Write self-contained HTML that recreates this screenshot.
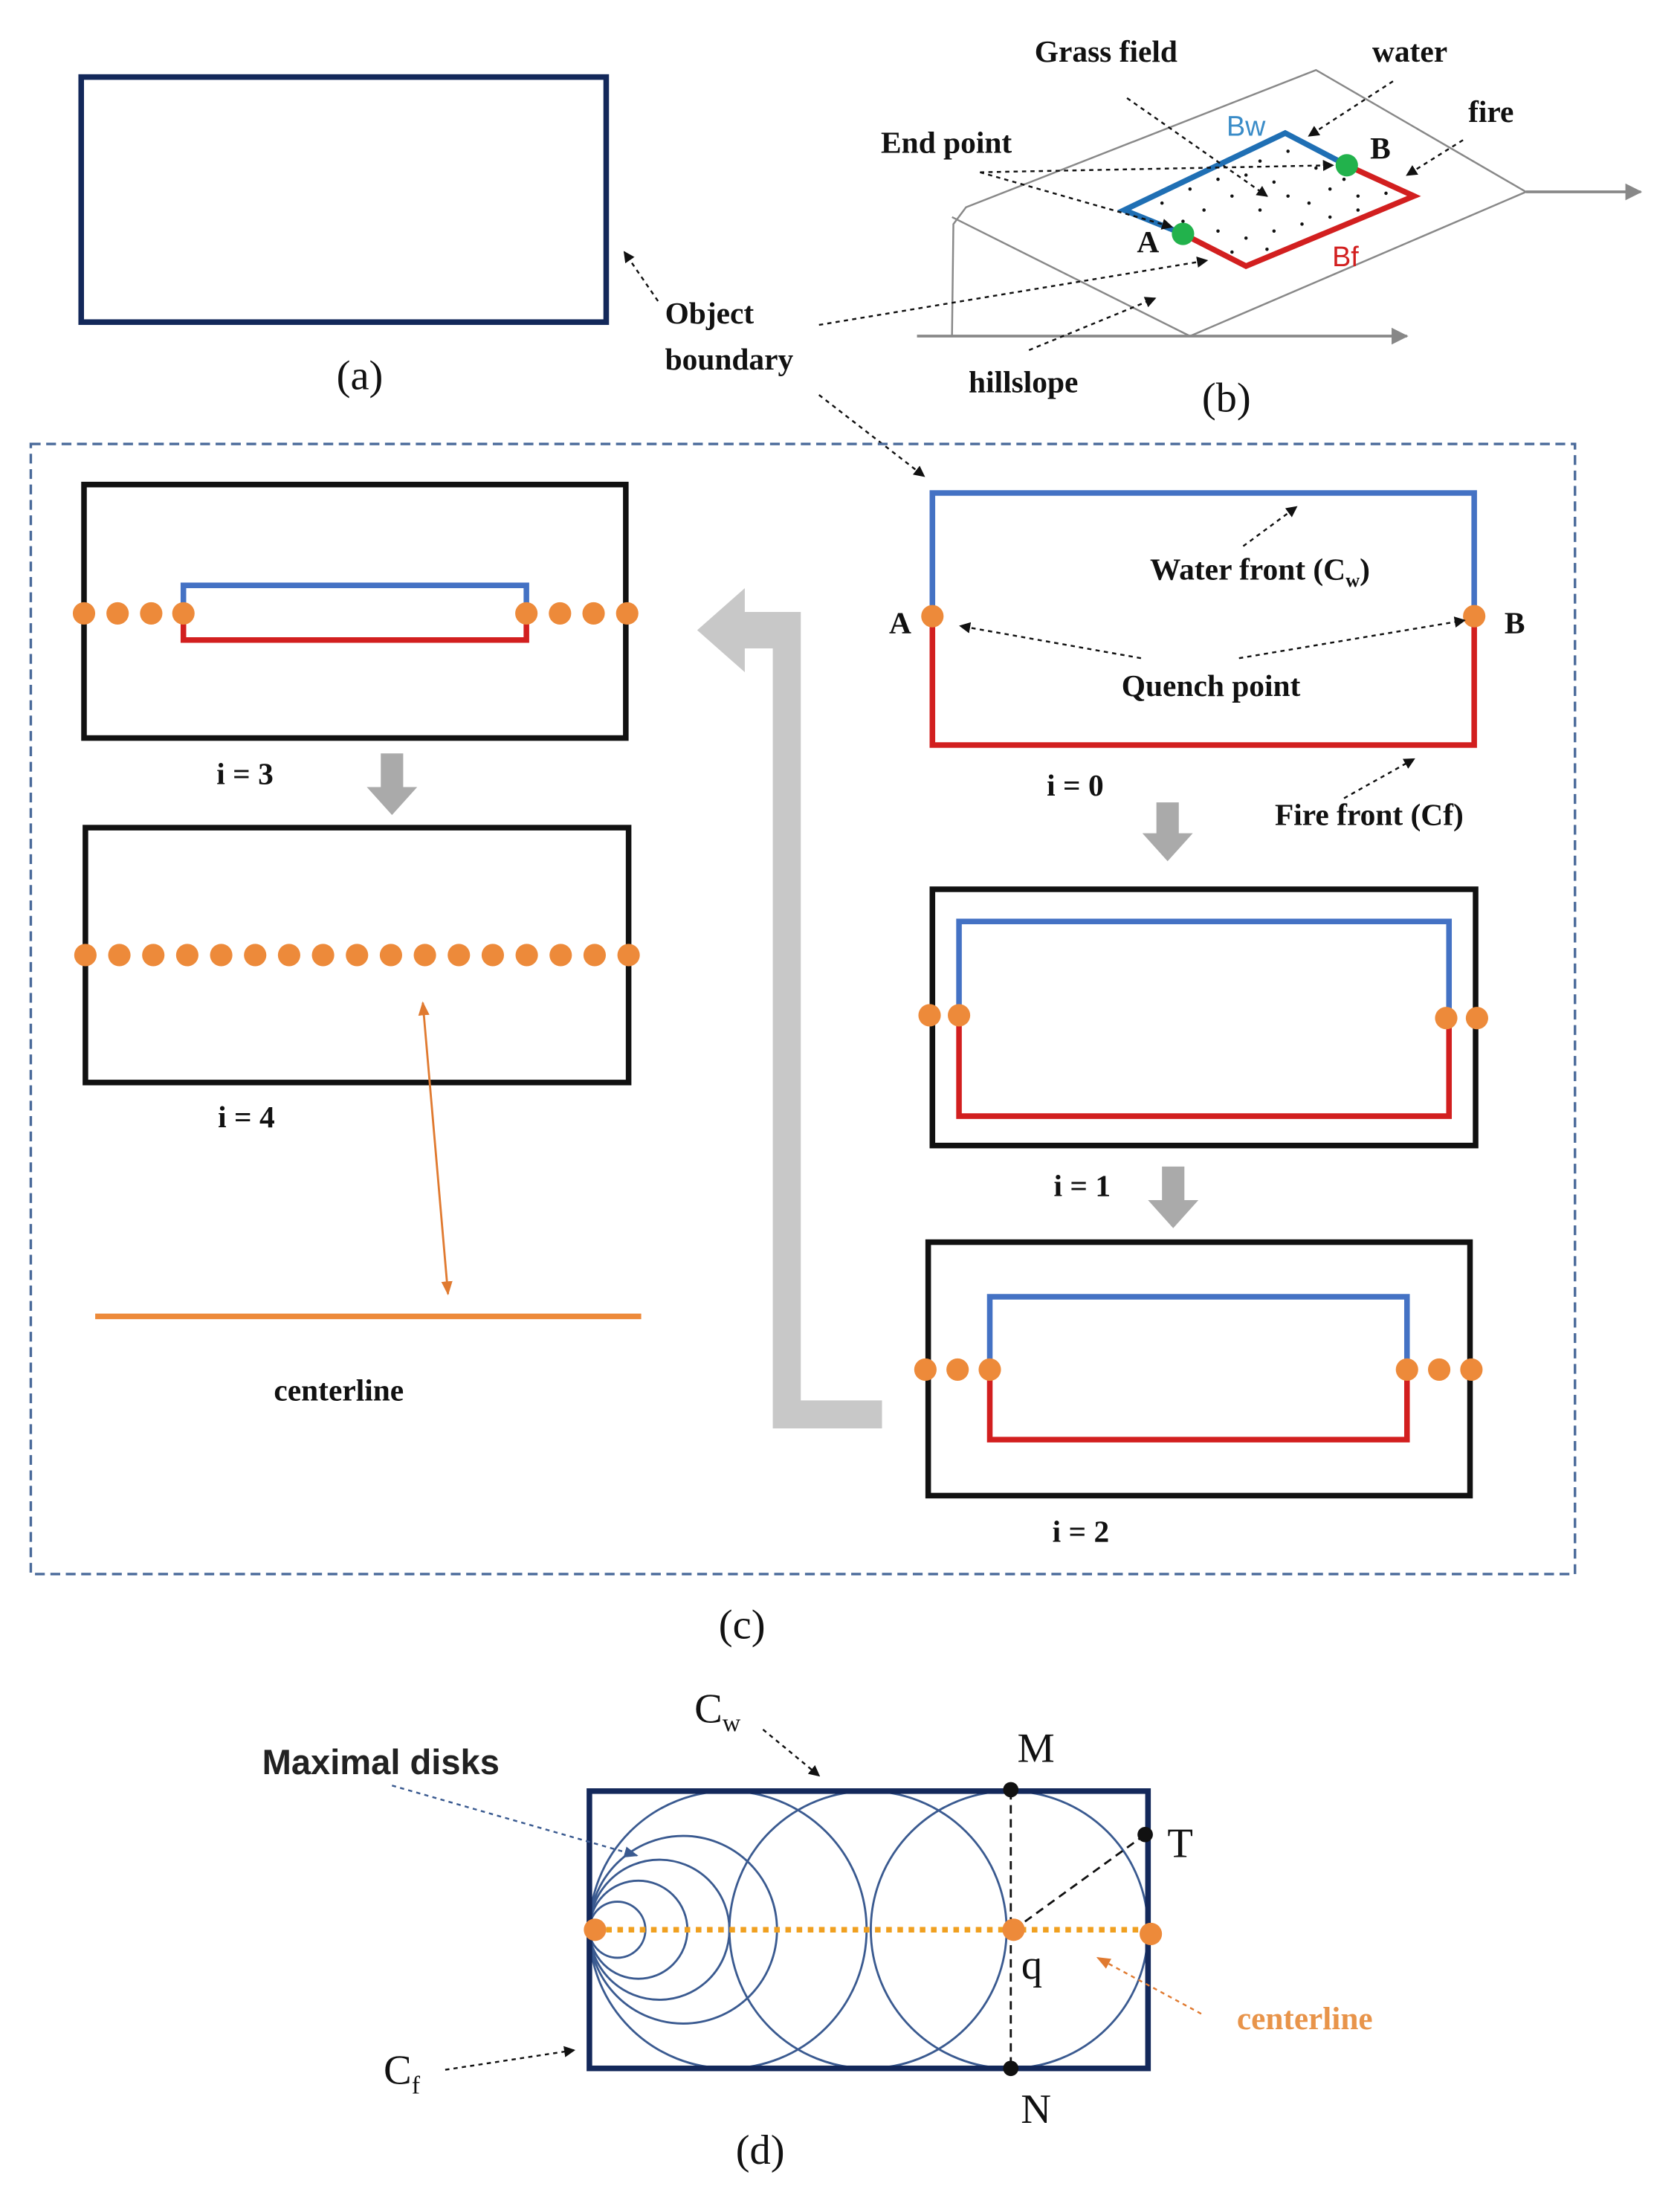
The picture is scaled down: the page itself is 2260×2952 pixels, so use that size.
<!DOCTYPE html>
<html><head><meta charset="utf-8"><style>
html,body{margin:0;padding:0;background:#fff}
svg{display:block}
.l{font-family:"Liberation Serif",serif;font-weight:bold;font-size:22px;fill:#111}
.c{font-family:"Liberation Serif",serif;font-size:30px;fill:#111}
</style></head><body>
<svg width="2260" height="2952" viewBox="0 0 1200 1567.4" xmlns="http://www.w3.org/2000/svg">
<defs>
<marker id="ah" markerWidth="8" markerHeight="8" refX="7" refY="4" orient="auto" markerUnits="userSpaceOnUse"><path d="M0,0 L8,4 L0,8z" fill="#111"/></marker>
<marker id="ag" markerWidth="12" markerHeight="12" refX="11" refY="6" orient="auto" markerUnits="userSpaceOnUse"><path d="M0,0 L12,6 L0,12z" fill="#888"/></marker>
<marker id="ao" markerWidth="10" markerHeight="10" refX="9" refY="5" orient="auto-start-reverse" markerUnits="userSpaceOnUse"><path d="M0,1 L10,5 L0,9z" fill="#e07a30"/></marker>
<marker id="ab" markerWidth="10" markerHeight="10" refX="9" refY="5" orient="auto" markerUnits="userSpaceOnUse"><path d="M0,1 L10,5 L0,9z" fill="#3a5a90"/></marker>
</defs>
<rect width="1200" height="1568" fill="#fff"/>
<!-- (a) -->
<rect x="58" y="55" width="375" height="175" fill="none" stroke="#13285a" stroke-width="4"/>
<text class="c" x="257" y="278" text-anchor="middle">(a)</text>
<!-- (b) -->
<g stroke="#888" stroke-width="1.3" fill="none">
<path d="M680,240 L681,160 L690,148 L940,50 L1090,137 L850,240 L680,155"/>
</g>
<line x1="655" y1="240" x2="1005" y2="240" stroke="#888" stroke-width="2" marker-end="url(#ag)"/>
<line x1="1090" y1="137" x2="1172" y2="137" stroke="#888" stroke-width="2" marker-end="url(#ag)"/>
<polyline points="845,167 803,150 918,95 962,118" fill="none" stroke="#1f6fb4" stroke-width="4"/>
<polyline points="962,118 1010,140 890,190 845,167" fill="none" stroke="#d21f1f" stroke-width="4"/>
<g fill="#111">
<circle cx="830" cy="145" r="1.2"/><circle cx="850" cy="135" r="1.2"/><circle cx="870" cy="128" r="1.2"/><circle cx="900" cy="115" r="1.2"/><circle cx="920" cy="108" r="1.2"/><circle cx="940" cy="120" r="1.2"/><circle cx="860" cy="150" r="1.2"/><circle cx="880" cy="140" r="1.2"/><circle cx="900" cy="150" r="1.2"/><circle cx="920" cy="140" r="1.2"/><circle cx="950" cy="135" r="1.2"/><circle cx="970" cy="140" r="1.2"/><circle cx="990" cy="138" r="1.2"/><circle cx="870" cy="165" r="1.2"/><circle cx="890" cy="170" r="1.2"/><circle cx="910" cy="165" r="1.2"/><circle cx="930" cy="160" r="1.2"/><circle cx="950" cy="155" r="1.2"/><circle cx="970" cy="150" r="1.2"/><circle cx="890" cy="125" r="1.2"/><circle cx="910" cy="130" r="1.2"/><circle cx="935" cy="145" r="1.2"/><circle cx="880" cy="180" r="1.2"/><circle cx="905" cy="178" r="1.2"/><circle cx="960" cy="128" r="1.2"/><circle cx="845" cy="158" r="1.2"/>
</g>
<circle cx="845" cy="167" r="8" fill="#22b24c"/>
<circle cx="962" cy="118" r="8" fill="#22b24c"/>
<g stroke="#111" stroke-width="1.3" stroke-dasharray="3,3" fill="none">
<line x1="805" y1="70" x2="905" y2="140" marker-end="url(#ah)"/>
<line x1="995" y1="58" x2="935" y2="97" marker-end="url(#ah)"/>
<line x1="1045" y1="100" x2="1005" y2="125" marker-end="url(#ah)"/>
<line x1="700" y1="123" x2="952" y2="118" marker-end="url(#ah)"/>
<line x1="700" y1="123" x2="837" y2="162" marker-end="url(#ah)"/>
<line x1="585" y1="232" x2="862" y2="186" marker-end="url(#ah)"/>
<line x1="735" y1="250" x2="825" y2="213" marker-end="url(#ah)"/>
<line x1="470" y1="215" x2="446" y2="180" marker-end="url(#ah)"/>
<line x1="585" y1="282" x2="660" y2="340" marker-end="url(#ah)"/>
</g>
<text class="l" x="790" y="44" text-anchor="middle">Grass field</text>
<text class="l" x="1007" y="44" text-anchor="middle">water</text>
<text class="l" x="1065" y="87" text-anchor="middle">fire</text>
<text class="l" x="676" y="109" text-anchor="middle">End point</text>
<text class="l" x="820" y="180" text-anchor="middle">A</text>
<text class="l" x="986" y="113" text-anchor="middle">B</text>
<text x="890" y="97" text-anchor="middle" font-family="Liberation Sans,sans-serif" font-size="20" fill="#3a8cc8">Bw</text>
<text x="961" y="190" text-anchor="middle" font-family="Liberation Sans,sans-serif" font-size="20" fill="#d21f1f">Bf</text>
<text class="l" x="475" y="231">Object</text>
<text class="l" x="475" y="264">boundary</text>
<text class="l" x="731" y="280" text-anchor="middle">hillslope</text>
<text class="c" x="876" y="294" text-anchor="middle">(b)</text>
<!-- (c) box -->
<rect x="22" y="317" width="1103" height="807" fill="none" stroke="#4a6a9a" stroke-width="1.8" stroke-dasharray="7,4"/>
<path d="M498,450 L532,420 L532,437 L572,437 L572,1000 L630,1000 L630,1020 L552,1020 L552,463 L532,463 L532,480 Z" fill="#c8c8c8"/>
<g fill="#aaa">
<path d="M826,573 h16 v22 h10 l-18,20 l-18,-20 h10z"/>
<path d="M830,833 h16 v24 h10 l-18,20 l-18,-20 h10z"/>
<path d="M272,538 h16 v24 h10 l-18,20 l-18,-20 h10z"/>
</g>
<!-- i=0 -->
<polyline points="666,440 666,352 1053,352 1053,440" fill="none" stroke="#4472c4" stroke-width="4"/>
<polyline points="666,442 666,532 1053,532 1053,442" fill="none" stroke="#d21f1f" stroke-width="4"/>
<circle cx="666" cy="440" r="8" fill="#ed8a3a"/><circle cx="1053" cy="440" r="8" fill="#ed8a3a"/>
<g stroke="#111" stroke-width="1.3" stroke-dasharray="3,3" fill="none">
<line x1="888" y1="390" x2="926" y2="362" marker-end="url(#ah)"/>
<line x1="815" y1="470" x2="686" y2="447" marker-end="url(#ah)"/>
<line x1="885" y1="470" x2="1046" y2="443" marker-end="url(#ah)"/>
<line x1="960" y1="570" x2="1010" y2="542" marker-end="url(#ah)"/>
</g>
<text class="l" x="643" y="452" text-anchor="middle">A</text>
<text class="l" x="1082" y="452" text-anchor="middle">B</text>
<text class="l" x="900" y="414" text-anchor="middle">Water front (C<tspan font-size="14" dy="5">w</tspan><tspan dy="-5">)</tspan></text>
<text class="l" x="865" y="497" text-anchor="middle">Quench point</text>
<text class="l" x="768" y="568" text-anchor="middle">i = 0</text>
<text class="l" x="978" y="589" text-anchor="middle">Fire front (Cf)</text>
<!-- i=1 -->
<rect x="666" y="635" width="388" height="183" fill="none" stroke="#111" stroke-width="4"/>
<polyline points="685,725 685,658 1035,658 1035,725" fill="none" stroke="#4472c4" stroke-width="4"/>
<polyline points="685,727 685,797 1035,797 1035,727" fill="none" stroke="#d21f1f" stroke-width="4"/>
<g fill="#ed8a3a"><circle cx="664" cy="725" r="8"/><circle cx="685" cy="725" r="8"/><circle cx="1033" cy="727" r="8"/><circle cx="1055" cy="727" r="8"/></g>
<text class="l" x="773" y="854" text-anchor="middle">i = 1</text>
<!-- i=2 -->
<rect x="663" y="887" width="387" height="181" fill="none" stroke="#111" stroke-width="4"/>
<polyline points="707,978 707,926 1005,926 1005,978" fill="none" stroke="#4472c4" stroke-width="4"/>
<polyline points="707,980 707,1028 1005,1028 1005,980" fill="none" stroke="#d21f1f" stroke-width="4"/>
<g fill="#ed8a3a"><circle cx="661" cy="978" r="8"/><circle cx="684" cy="978" r="8"/><circle cx="707" cy="978" r="8"/><circle cx="1005" cy="978" r="8"/><circle cx="1028" cy="978" r="8"/><circle cx="1051" cy="978" r="8"/></g>
<text class="l" x="772" y="1101" text-anchor="middle">i = 2</text>
<!-- i=3 -->
<rect x="60" y="346" width="387" height="181" fill="none" stroke="#111" stroke-width="4"/>
<polyline points="131,438 131,418 376,418 376,438" fill="none" stroke="#4472c4" stroke-width="4"/>
<polyline points="131,440 131,457 376,457 376,440" fill="none" stroke="#d21f1f" stroke-width="4"/>
<g fill="#ed8a3a"><circle cx="60" cy="438" r="8"/><circle cx="84" cy="438" r="8"/><circle cx="108" cy="438" r="8"/><circle cx="131" cy="438" r="8"/><circle cx="376" cy="438" r="8"/><circle cx="400" cy="438" r="8"/><circle cx="424" cy="438" r="8"/><circle cx="448" cy="438" r="8"/></g>
<text class="l" x="175" y="560" text-anchor="middle">i = 3</text>
<!-- i=4 -->
<rect x="61" y="591" width="388" height="182" fill="none" stroke="#111" stroke-width="4"/>
<g fill="#ed8a3a">
<circle cx="61" cy="682" r="8"/><circle cx="85.25" cy="682" r="8"/><circle cx="109.5" cy="682" r="8"/><circle cx="133.75" cy="682" r="8"/><circle cx="158" cy="682" r="8"/><circle cx="182.25" cy="682" r="8"/><circle cx="206.5" cy="682" r="8"/><circle cx="230.75" cy="682" r="8"/><circle cx="255" cy="682" r="8"/><circle cx="279.25" cy="682" r="8"/><circle cx="303.5" cy="682" r="8"/><circle cx="327.75" cy="682" r="8"/><circle cx="352" cy="682" r="8"/><circle cx="376.25" cy="682" r="8"/><circle cx="400.5" cy="682" r="8"/><circle cx="424.75" cy="682" r="8"/><circle cx="449" cy="682" r="8"/>
</g>
<text class="l" x="176" y="805" text-anchor="middle">i = 4</text>
<line x1="302" y1="716" x2="320" y2="924" stroke="#e07a30" stroke-width="1.5" marker-start="url(#ao)" marker-end="url(#ao)"/>
<line x1="68" y1="940" x2="458" y2="940" stroke="#ed8a3a" stroke-width="4"/>
<text class="l" x="242" y="1000" text-anchor="middle">centerline</text>
<text class="c" x="530" y="1170" text-anchor="middle">(c)</text>
<!-- (d) -->
<g fill="none" stroke="#3a5a90" stroke-width="1.5">
<circle cx="520" cy="1378" r="99"/><circle cx="620" cy="1378" r="99"/><circle cx="721" cy="1378" r="99"/>
<circle cx="441" cy="1378" r="20"/><circle cx="456" cy="1378" r="35"/><circle cx="471" cy="1378" r="50"/><circle cx="488" cy="1378" r="67"/>
</g>
<rect x="421" y="1279" width="399" height="198" fill="none" stroke="#13285a" stroke-width="4"/>
<line x1="425" y1="1378" x2="822" y2="1378" stroke="#f0a020" stroke-width="4" stroke-dasharray="4,4"/>
<g stroke="#111" stroke-width="1.5" stroke-dasharray="6,4">
<line x1="722" y1="1279" x2="722" y2="1477"/>
<line x1="724" y1="1378" x2="818" y2="1310"/>
</g>
<g fill="#ed8a3a"><circle cx="425" cy="1378" r="8"/><circle cx="724" cy="1378" r="8"/><circle cx="822" cy="1381" r="8"/></g>
<g fill="#111"><circle cx="722" cy="1278" r="5.5"/><circle cx="818" cy="1310" r="5.5"/><circle cx="722" cy="1477" r="5.5"/></g>
<g stroke-width="1.3" stroke-dasharray="3,3" fill="none">
<line x1="545" y1="1235" x2="585" y2="1268" stroke="#111" marker-end="url(#ah)"/>
<line x1="318" y1="1478" x2="410" y2="1464" stroke="#111" marker-end="url(#ah)"/>
<line x1="280" y1="1275" x2="455" y2="1325" stroke="#3a5a90" marker-end="url(#ab)"/>
<line x1="858" y1="1438" x2="784" y2="1398" stroke="#e07a30" marker-end="url(#ao)"/>
</g>
<text class="c" x="740" y="1258" text-anchor="middle" font-size="26">M</text>
<text class="c" x="843" y="1326" text-anchor="middle" font-size="26">T</text>
<text class="c" x="737" y="1413" text-anchor="middle" font-size="28">q</text>
<text class="c" x="740" y="1516" text-anchor="middle" font-size="26">N</text>
<text class="c" x="496" y="1230" font-size="28">C<tspan font-size="18" dy="6">w</tspan></text>
<text class="c" x="274" y="1488" font-size="28">C<tspan font-size="18" dy="7">f</tspan></text>
<text x="272" y="1267" text-anchor="middle" font-family="Liberation Sans,sans-serif" font-weight="bold" font-size="25" fill="#222">Maximal disks</text>
<text x="932" y="1449" text-anchor="middle" font-family="Liberation Serif,serif" font-weight="bold" font-size="23" fill="#e8944a">centerline</text>
<text class="c" x="543" y="1545" text-anchor="middle">(d)</text>
</svg>
</body></html>
